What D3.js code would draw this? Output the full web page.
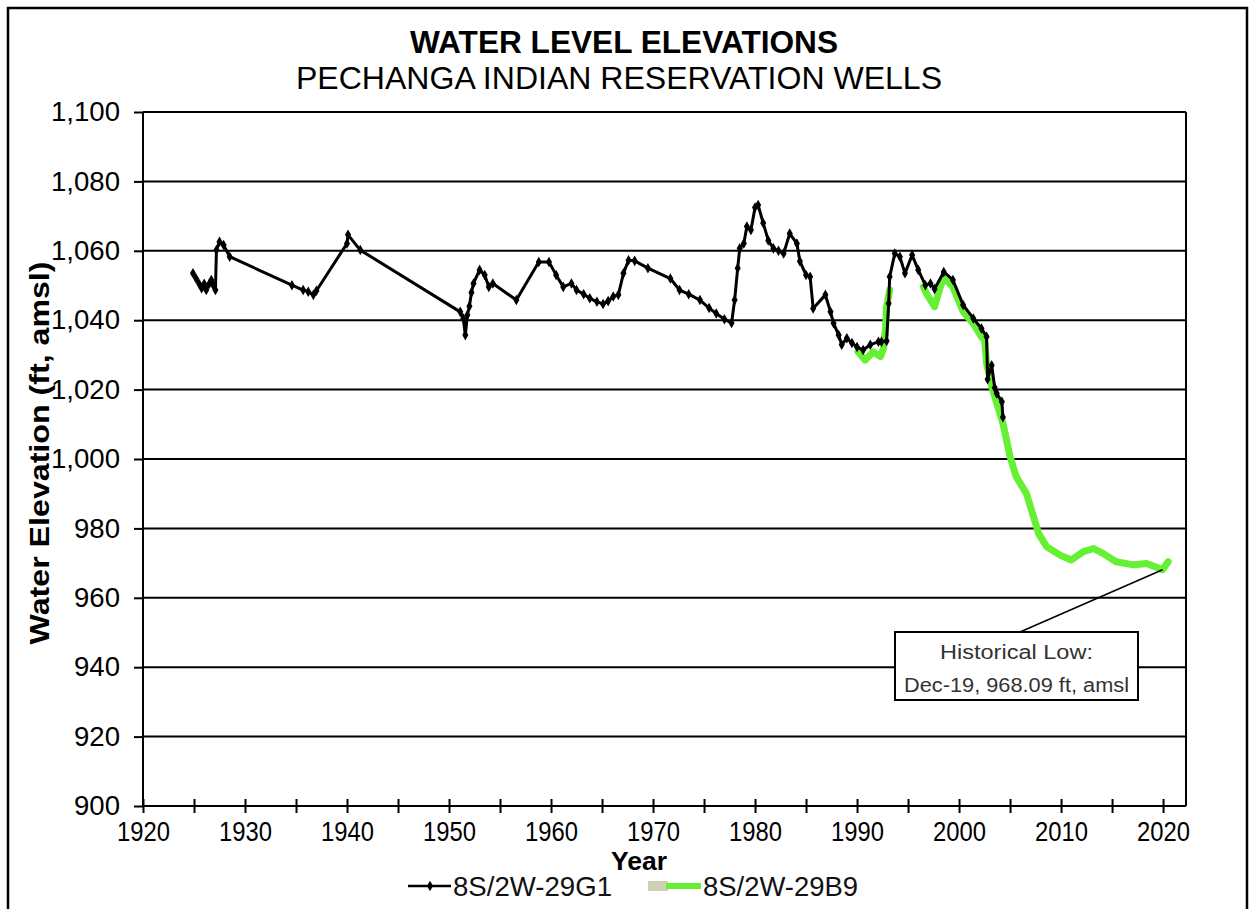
<!DOCTYPE html>
<html><head><meta charset="utf-8">
<script src="https://cdn.jsdelivr.net/npm/d3@7"></script>
<style>
html,body{margin:0;padding:0;background:#fff;}
svg{display:block;}
.reg{font-family:"Liberation Sans",Arial,sans-serif;}
</style></head>
<body>
<svg id="c" width="1250" height="909"></svg>
<script>
// ---- data ----
const titleText = "WATER LEVEL ELEVATIONS";
const subtitleText = "PECHANGA INDIAN RESERVATION WELLS";
const yTickValues = [900,920,940,960,980,1000,1020,1040,1060,1080,1100];
const xTickLabels = [1920,1930,1940,1950,1960,1970,1980,1990,2000,2010,2020];
const seriesNames = ["8S/2W-29G1","8S/2W-29B9"];

const g1Years = [1924.9,1925.2,1925.5,1925.75,1926.0,1926.2,1926.5,1926.7,1926.9,1927.1,1927.2,1927.5,1927.9,1928.5,
 1934.6,1935.7,1936.2,1936.7,1937.0,1940.0,1940.1,1941.3,
 1951.1,1951.4,1951.6,1951.8,1952.0,1952.2,1952.4,1953.0,1953.5,1953.9,1954.3,1956.6,1958.8,1959.8,1960.5,
 1961.2,1962.0,1962.5,1963.2,1963.8,1964.5,1965.1,1965.6,1966.1,1966.6,1967.1,1967.6,1968.2,1969.5,1971.7,
 1972.6,1973.5,1974.6,1975.5,1976.2,1977.0,1977.7,1978.0,1978.3,1978.5,1978.9,1979.2,1979.6,1980.0,1980.3,
 1980.8,1981.3,1981.8,1982.3,1982.8,1983.4,1984.1,1984.4,1985.0,1985.4,1985.7,1986.9,1987.4,1987.7,1988.2,
 1988.5,1989.0,1989.5,1990.0,1990.6,1991.3,1992.1,1992.4,1992.9,1993.1,1993.2,1993.7,1994.2,1994.7,1995.4,
 1996.0,1996.7,1997.2,1997.6,1998.5,1999.4,2000.4,2001.4,2002.2,2002.7,2002.8,2003.2,2003.5,2003.7,2004.2,2004.3];
const g1Values = [1053.5,1052,1050.5,1049.2,1050.5,1048.7,1050.5,1051.6,1050,1048.7,1060.2,1062.6,1061.7,1058.3,
 1050.1,1048.7,1048.2,1047.3,1048.5,1062.1,1064.6,1060.2,
 1042.4,1040.5,1035.7,1041.5,1044,1048,1050.6,1054.5,1053,1049.6,1050.6,1045.8,1056.8,1056.8,1053,
 1049.6,1050.6,1048.7,1047.5,1046.3,1045.3,1044.7,1045.5,1046.8,1047.3,1053.5,1057.3,1057.1,1055,1052.0,
 1048.7,1047.5,1045.8,1043.5,1041.9,1040.3,1039.2,1045.8,1055,1060.7,1062.1,1067,1066,1072.5,1073.2,
 1068,1063,1060.7,1060,1059.2,1065.0,1062.1,1057,1053,1052.5,1043.4,1047.3,1042.4,1039.1,1035.7,
 1032.9,1034.8,1033.4,1032.3,1031.4,1032.9,1033.8,1033.8,1034,1044.8,1052.5,1059.2,1058.3,1053.5,1058.8,
 1054.5,1050.1,1050.6,1049,1053.9,1051.6,1044.4,1040.5,1037.6,1035.2,1023,1027,1020.5,1018.9,1016.5,1012];

const b9Years = [1990.1,1990.8,1991.6,1992.3,1992.6,1992.8,1992.9,1993.2,1994.0,
 1996.5,1996.8,1997.6,1998.0,1998.5,1999.4,2000.4,2001.4,2002.2,2002.5,2002.7,2003.2,2004.3,2005.0,2005.6,
 2006.6,2007.3,2007.8,2008.6,2009.9,2011.0,2012.2,2013.2,2014.1,2015.4,2017.1,2018.4,2019.95,2020.5];
const b9Values = [1030.9,1028.5,1030.9,1029.5,1031.9,1038.1,1043.9,1048.7,null,
 1049.6,1047.7,1043.9,1048,1052.5,1049.5,1042.5,1039,1035.2,1034.3,1027.6,1020.8,1010.3,1000.7,994.9,
 990.1,983.4,978.5,974.7,972.3,970.9,973.3,974.2,972.8,970.4,969.5,969.9,968.09,970.4];

const annotLines = ["Historical Low:","Dec-19, 968.09 ft, amsl"];
const annotPoint = [2019.95, 968.09];

// ---- chart ----
const svg = d3.select("#c");
const L=143, R=1186, T=112, B=806;
const x = d3.scaleLinear().domain([1920,2022.25]).range([L,R]);
const y = d3.scaleLinear().domain([900,1100]).range([B,T]);
const fit = (sel,w)=>sel.attr("textLength",w).attr("lengthAdjust","spacingAndGlyphs");

// outer frame
svg.append("path").attr("d","M8,912 L8,8 L1247,8 L1247,912").attr("fill","none").attr("stroke","#000").attr("stroke-width",2.5);

// titles
fit(svg.append("text").attr("x",624).attr("y",53).attr("text-anchor","middle").attr("class","reg")
  .attr("font-size",31).attr("font-weight","bold").text(titleText),428);
fit(svg.append("text").attr("x",619).attr("y",89).attr("text-anchor","middle").attr("class","reg")
  .attr("font-size",32).text(subtitleText),646);

// gridlines
svg.append("g").selectAll("line").data(yTickValues.filter(v=>v>900)).join("line")
  .attr("x1",L).attr("x2",R).attr("y1",d=>y(d)).attr("y2",d=>y(d)).attr("stroke","#000").attr("stroke-width",2);
// right border
svg.append("line").attr("x1",R).attr("x2",R).attr("y1",T).attr("y2",B).attr("stroke","#000").attr("stroke-width",2);

// y axis
const yAxis = svg.append("g").attr("transform",`translate(${L},0)`)
  .call(d3.axisLeft(y).tickValues(yTickValues).tickSize(9).tickPadding(14).tickFormat(d3.format(",")));
yAxis.selectAll("path,line").attr("stroke","#000").attr("stroke-width",2);
yAxis.select(".domain").attr("d",`M0,${T}V${B}`);
yAxis.selectAll("text").attr("class","reg").attr("font-size",27).attr("fill","#000")
  .attr("textLength",d=>d>=1000?69:46).attr("lengthAdjust","spacingAndGlyphs");

// x axis
const xMinor = d3.range(1920,2021,5);
const xAxis = svg.append("g").attr("transform",`translate(0,${B})`)
  .call(d3.axisBottom(x).tickValues(xMinor).tickSizeInner(7).tickSizeOuter(0).tickPadding(9)
     .tickFormat(d=>xTickLabels.includes(d)?d:""));
xAxis.selectAll("path,line").attr("stroke","#000").attr("stroke-width",2);
xAxis.selectAll(".tick line").attr("y1",-7);
xAxis.select(".domain").attr("d",`M${L},0H${R}`);
xAxis.selectAll("text").attr("class","reg").attr("font-size",27).attr("fill","#000")
  .filter(d=>xTickLabels.includes(d)).attr("textLength",53).attr("lengthAdjust","spacingAndGlyphs");

// axis titles
fit(svg.append("text").attr("x",639).attr("y",870).attr("text-anchor","middle").attr("class","reg")
  .attr("font-size",26).attr("font-weight","bold").text("Year"),56);
fit(svg.append("text").attr("transform","translate(49,453) rotate(-90)").attr("text-anchor","middle").attr("class","reg")
  .attr("font-size",27).attr("font-weight","bold").text("Water Elevation (ft, amsl)"),383);

// series
const g1 = g1Years.map((d,i)=>({x:d,y:g1Values[i]}));
const b9 = b9Years.map((d,i)=>({x:d,y:b9Values[i]}));
const line = d3.line().defined(d=>d.y!==null).x(d=>x(d.x)).y(d=>y(d.y));
const green = "#66f033";
svg.append("path").datum(b9).attr("d",line).attr("fill","none").attr("stroke",green)
  .attr("stroke-width",7).attr("stroke-linejoin","round").attr("stroke-linecap","round");
svg.append("path").datum(g1).attr("d",line).attr("fill","none").attr("stroke","#000")
  .attr("stroke-width",3).attr("stroke-linejoin","round");
const diamond = d3.symbol().type(d3.symbolDiamond).size(32);
svg.append("g").selectAll("path").data(g1).join("path")
  .attr("transform",d=>`translate(${x(d.x)},${y(d.y)})`).attr("d",diamond).attr("fill","#000");

// annotation
const bx=895, by=632, bw=243, bh=68;
svg.append("line").attr("x1",1020).attr("y1",by).attr("x2",x(annotPoint[0])).attr("y2",y(annotPoint[1]))
  .attr("stroke","#000").attr("stroke-width",1.5);
svg.append("rect").attr("x",bx).attr("y",by).attr("width",bw).attr("height",bh)
  .attr("fill","#fff").attr("stroke","#000").attr("stroke-width",2);
fit(svg.append("text").attr("x",bx+bw/2).attr("y",659).attr("text-anchor","middle").attr("class","reg")
  .attr("font-size",20).attr("fill","#333").text(annotLines[0]),153);
fit(svg.append("text").attr("x",bx+bw/2).attr("y",692).attr("text-anchor","middle").attr("class","reg")
  .attr("font-size",20).attr("fill","#333").text(annotLines[1]),225);

// legend
const ly = 886;
svg.append("line").attr("x1",408).attr("x2",451).attr("y1",ly).attr("y2",ly).attr("stroke","#000").attr("stroke-width",2.5);
svg.append("path").attr("transform",`translate(430,${ly})`).attr("d",diamond).attr("fill","#000");
fit(svg.append("text").attr("x",453).attr("y",ly+10).attr("class","reg").attr("font-size",28).attr("fill","#111")
  .text(seriesNames[0]),159);
svg.append("rect").attr("x",648).attr("y",ly-5).attr("width",20).attr("height",10).attr("fill","#c3c3a0").attr("opacity",0.8);
svg.append("line").attr("x1",666).attr("x2",701).attr("y1",ly).attr("y2",ly).attr("stroke",green).attr("stroke-width",6);
fit(svg.append("text").attr("x",703).attr("y",ly+10).attr("class","reg").attr("font-size",28).attr("fill","#111")
  .text(seriesNames[1]),155);
</script>
</body></html>
